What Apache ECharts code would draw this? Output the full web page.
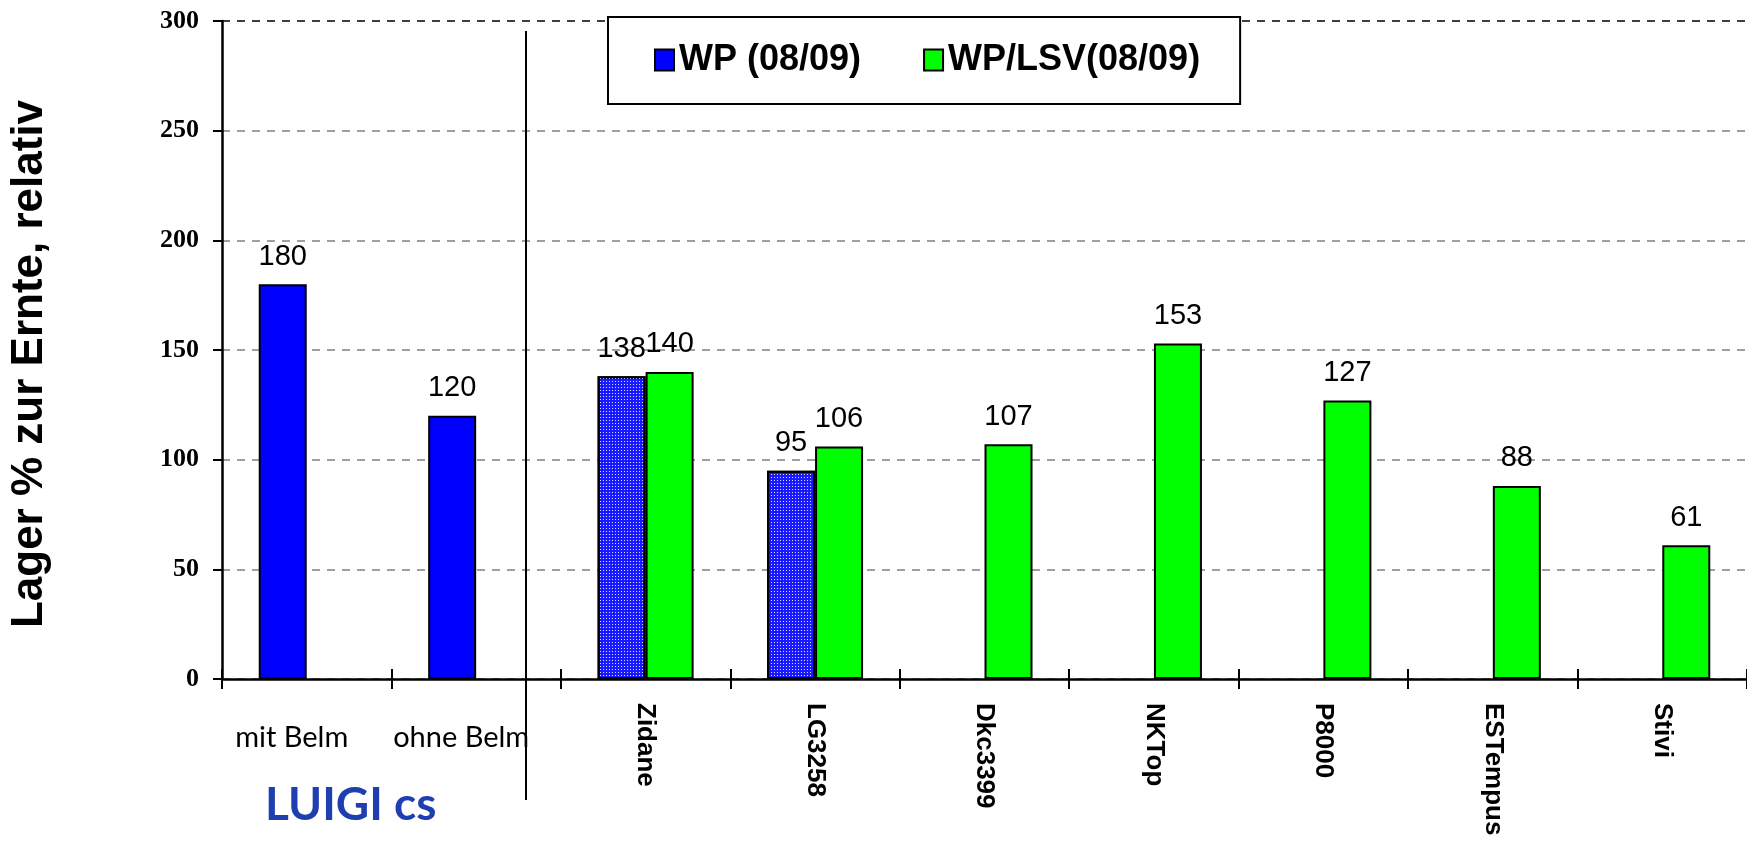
<!DOCTYPE html>
<html>
<head>
<meta charset="utf-8">
<script src="https://cdn.jsdelivr.net/npm/echarts@6/dist/echarts.min.js"></script>
<style>
html,body{margin:0;padding:0;background:#fff;}
#chart{width:1747px;height:845px;}
</style>
</head>
<body>
<div id="chart"></div>
<script>
const categories = ['mit Belm', 'ohne Belm', 'Zidane', 'LG3258', 'Dkc3399', 'NKTop', 'P8000', 'ESTempus', 'Stivi'];
const wpValues = [180, 120, 138, 95, null, null, null, null, null];
const lsvValues = [null, null, 140, 106, 107, 153, 127, 88, 61];
const seriesNames = ['WP (08/09)', 'WP/LSV(08/09)'];
const yTickValues = [0, 50, 100, 150, 200, 250, 300];
const groupLabel = 'LUIGI cs';
const yAxisTitle = 'Lager % zur Ernte, relativ';
const hatchedCategories = ['Zidane', 'LG3258'];

const chart = echarts.init(document.getElementById('chart'));

const hatchDecal = {
  symbol: 'rect',
  symbolSize: 1,
  color: 'rgba(255,255,255,0.85)',
  dashArrayX: [1, 2],
  dashArrayY: [1, 2],
  rotation: 0
};

const wpData = wpValues.map((v, i) => {
  if (v == null) return null;
  if (hatchedCategories.indexOf(categories[i]) >= 0) {
    return { value: v, itemStyle: { color: '#1a1aff', decal: hatchDecal } };
  }
  return v;
});

const labelStyle = {
  show: true,
  position: 'top',
  distance: 13,
  color: '#000',
  fontFamily: 'Liberation Sans',
  fontSize: 29
};

const option = {
  animation: false,
  backgroundColor: '#fff',
  grid: { left: 219, right: -7, top: 21, bottom: 166, containLabel: false },
  legend: {
    left: 608,
    top: 17,
    orient: 'horizontal',
    icon: 'rect',
    padding: [25, 40, 26, 46],
    itemWidth: 19,
    itemHeight: 21,
    itemGap: 62,
    backgroundColor: '#fff',
    borderColor: '#000',
    borderWidth: 2,
    data: seriesNames,
    textStyle: { fontFamily: 'Liberation Sans', fontWeight: 'bold', fontSize: 36, color: '#000' }
  },
  xAxis: [
    {
      type: 'category',
      data: categories,
      position: 'bottom',
      axisLine: { show: true, lineStyle: { color: '#000', width: 2.5 } },
      axisTick: { show: true, interval: 0, inside: false, length: 10, lineStyle: { color: '#000', width: 2 } },
      axisLabel: {
        rotate: -90,
        margin: 24,
        interval: function (index) { return index >= 2; },
        fontFamily: 'Liberation Sans',
        fontWeight: 'bold',
        fontSize: 26,
        color: '#000'
      },
      splitLine: { show: false }
    },
    {
      type: 'category',
      data: categories,
      position: 'bottom',
      offset: 0,
      axisLine: { show: false },
      axisTick: { show: true, interval: 0, inside: true, length: 10, lineStyle: { color: '#000', width: 2 } },
      axisLabel: {
        rotate: 0,
        margin: 44,
        interval: function (index) { return index < 2; },
        fontFamily: 'Lato',
        fontSize: 29,
        color: '#000',
        padding: [0, 30, 0, 0]
      },
      splitLine: { show: false }
    }
  ],
  yAxis: {
    type: 'value',
    min: yTickValues[0],
    max: yTickValues[yTickValues.length - 1],
    interval: yTickValues[1] - yTickValues[0],
    name: yAxisTitle,
    nameLocation: 'middle',
    nameGap: 170,
    nameTextStyle: { fontFamily: 'Liberation Sans', fontWeight: 'bold', fontSize: 44, color: '#000', padding: [0, 28, 0, 0] },
    axisLine: { show: true, lineStyle: { color: '#000', width: 2.5 } },
    axisTick: { show: true, inside: false, length: 9, lineStyle: { color: '#000', width: 2 } },
    axisLabel: {
      margin: 23,
      fontFamily: 'Liberation Serif',
      fontWeight: 'bold',
      fontSize: 26,
      color: '#000'
    },
    splitLine: {
      show: true,
      lineStyle: {
        color: ['#808080', '#808080', '#808080', '#808080', '#808080', '#808080', '#000'],
        width: 1.5,
        type: [8, 7]
      }
    }
  },
  series: [
    {
      name: seriesNames[0],
      type: 'bar',
      xAxisIndex: 0,
      data: wpData,
      barWidth: 48,
      barGap: '0%',
      itemStyle: { color: '#0000ff', borderColor: '#000', borderWidth: 2 },
      label: labelStyle
    },
    {
      name: seriesNames[1],
      type: 'bar',
      xAxisIndex: 0,
      data: lsvValues,
      barWidth: 48,
      barGap: '0%',
      itemStyle: { color: '#00ff00', borderColor: '#000', borderWidth: 2 },
      label: labelStyle
    }
  ],
  graphic: [
    {
      type: 'line',
      shape: { x1: 526, y1: 31, x2: 526, y2: 800 },
      style: { stroke: '#000', lineWidth: 2 },
      z: 10
    },
    {
      type: 'text',
      left: 265,
      top: 782,
      style: {
        text: groupLabel,
        fill: '#1f3fb0',
        font: 'bold 46px Lato'
      },
      z: 10
    }
  ]
};

chart.setOption(option);
</script>
</body>
</html>
